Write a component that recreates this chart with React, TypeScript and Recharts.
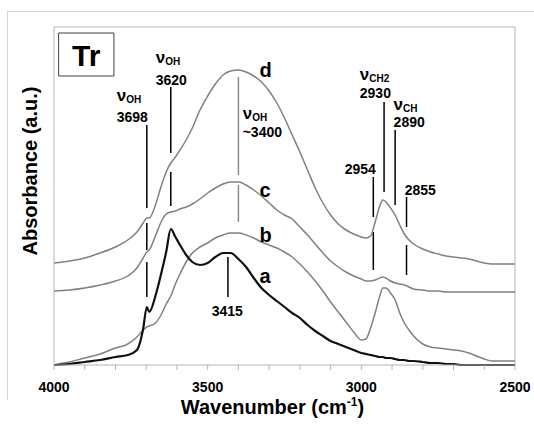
import React from "react";
import {
  LineChart,
  Line,
  XAxis,
  YAxis,
  ReferenceLine,
  ReferenceDot,
  ReferenceArea,
} from "recharts";

// wavenumber grid (cm-1)
const wavenumbers = [
  4000, 3950, 3900, 3850, 3800, 3760, 3730, 3710, 3698, 3690, 3670, 3650, 3635,
  3620, 3605, 3590, 3570, 3550, 3525, 3500, 3475, 3450, 3425, 3400, 3375, 3350,
  3325, 3300, 3275, 3250, 3225, 3200, 3175, 3150, 3125, 3100, 3075, 3050, 3025,
  3000, 2985, 2970, 2955, 2940, 2930, 2920, 2905, 2890, 2875, 2860, 2845, 2830,
  2800, 2775, 2750, 2725, 2700, 2675, 2650, 2625, 2600, 2575, 2550, 2525, 2500,
];

const seriesD = [
  1.02, 1.04, 1.07, 1.12, 1.18, 1.25, 1.33, 1.42, 1.47, 1.47, 1.6, 1.8, 1.93,
  2.02, 2.08, 2.15, 2.25, 2.37, 2.55, 2.69, 2.81, 2.9, 2.94, 2.95, 2.93, 2.89,
  2.83, 2.74, 2.62, 2.47, 2.3, 2.13, 1.95, 1.77, 1.62, 1.5, 1.41, 1.35, 1.31,
  1.28, 1.27, 1.29, 1.43, 1.59, 1.65, 1.63, 1.57, 1.5, 1.4, 1.31, 1.25, 1.21,
  1.16, 1.13, 1.11, 1.09, 1.08, 1.07, 1.06, 1.04, 1.02, 1.01, 1.01, 1.01, 1.01,
];

const seriesC = [
  0.74, 0.75, 0.77, 0.8, 0.84, 0.89, 0.97, 1.07, 1.13, 1.15, 1.29, 1.44, 1.51,
  1.53, 1.54, 1.56, 1.58, 1.61, 1.66, 1.72, 1.77, 1.81, 1.83, 1.83, 1.8, 1.75,
  1.69, 1.62, 1.55, 1.5, 1.46, 1.38, 1.3, 1.21, 1.12, 1.04, 0.98, 0.93, 0.89,
  0.86, 0.84, 0.84, 0.85, 0.87, 0.88, 0.87, 0.84, 0.82, 0.81, 0.8, 0.78, 0.76,
  0.75, 0.74, 0.74, 0.73, 0.73, 0.73, 0.73, 0.73, 0.73, 0.73, 0.73, 0.73, 0.73,
];

const seriesB = [
  0.0, 0.03, 0.07, 0.11, 0.17, 0.21, 0.28, 0.35, 0.38, 0.39, 0.42, 0.51, 0.61,
  0.69, 0.81, 0.91, 1.03, 1.12, 1.18, 1.22, 1.27, 1.3, 1.32, 1.32, 1.3, 1.27,
  1.23, 1.2, 1.17, 1.13, 1.08, 1.01, 0.93, 0.84, 0.74, 0.63, 0.53, 0.43, 0.33,
  0.25, 0.26, 0.37, 0.52, 0.69, 0.77, 0.77, 0.72, 0.65, 0.52, 0.42, 0.35, 0.29,
  0.21, 0.18, 0.17, 0.16, 0.15, 0.14, 0.12, 0.09, 0.06, 0.04, 0.04, 0.04, 0.04,
];

const seriesA = [
  0.0, 0.01, 0.03, 0.05, 0.08, 0.1, 0.15, 0.36, 0.58, 0.53, 0.69, 0.93, 1.13,
  1.36, 1.28, 1.2, 1.1, 1.03, 1.0, 1.02, 1.08, 1.12, 1.12, 1.06, 0.98, 0.87,
  0.77, 0.7, 0.64, 0.58, 0.52, 0.47, 0.4, 0.34, 0.29, 0.24, 0.21, 0.18, 0.15,
  0.12, 0.11, 0.1, 0.09, 0.08, 0.08, 0.07, 0.07, 0.06, 0.05, 0.05, 0.04, 0.04,
  0.03, 0.02, 0.02, 0.01, 0.01, 0.0, 0.0, 0.0, 0.0, 0.0, 0.0, 0.0, 0.0,
];

const xTicks = [
  4000, 3900, 3800, 3700, 3600, 3500, 3400, 3300, 3200, 3100, 3000, 2900, 2800,
  2700, 2600, 2500,
];

// vertical band markers: [top, bottom] spans in absorbance units
const markerLines = [
  { w: 3698, spans: [[2.4, 1.57], [1.42, 1.15], [1.03, 0.68]], grey: false },
  { w: 3620, spans: [[2.78, 2.12], [1.93, 1.59]], grey: false },
  { w: 3400, spans: [[2.88, 1.9], [1.8, 1.43]], grey: true },
  { w: 3434, spans: [[1.08, 0.68]], grey: false },
  { w: 2961, spans: [[1.88, 1.48], [1.33, 0.95]], grey: false },
  { w: 2926, spans: [[2.63, 1.73]], grey: false },
  { w: 2890, spans: [[2.35, 1.6]], grey: false },
  { w: 2853, spans: [[1.68, 1.38], [1.2, 0.9]], grey: false },
];

const peakLabels = [
  { w: 3796, a: 2.64, text: "ν", sub: "OH" },
  { w: 3796, a: 2.43, text: "3698" },
  { w: 3669, a: 3.02, text: "ν", sub: "OH" },
  { w: 3669, a: 2.8, text: "3620" },
  { w: 3386, a: 2.46, text: "ν", sub: "OH" },
  { w: 3386, a: 2.28, text: "~3400" },
  { w: 3487, a: 0.49, text: "3415" },
  { w: 3054, a: 1.91, text: "2954" },
  { w: 3005, a: 2.85, text: "ν", sub: "CH2" },
  { w: 3005, a: 2.67, text: "2930" },
  { w: 2895, a: 2.55, text: "ν", sub: "CH" },
  { w: 2895, a: 2.38, text: "2890" },
  { w: 2859, a: 1.7, text: "2855" },
];

const seriesLetters = [
  { w: 3331, a: 2.88, text: "d" },
  { w: 3331, a: 1.68, text: "c" },
  { w: 3331, a: 1.23, text: "b" },
  { w: 3331, a: 0.82, text: "a" },
];

const data = wavenumbers.map((w, i) => ({
  w,
  a: seriesA[i],
  b: seriesB[i],
  c: seriesC[i],
  d: seriesD[i],
}));

const GREY = "#808080";
const FRAME = "#b4b4b4";

const textAt =
  (t: { text: string; sub?: string }, size: number) =>
  (props: any) => {
    const { x, y } = props.viewBox;
    return (
      <text x={x} y={y} fontSize={t.sub ? 17 : size} fontWeight="bold" fill="#000">
        <tspan>{t.text}</tspan>
        {t.sub && (
          <tspan fontSize={10} dy={2}>
            {t.sub}
          </tspan>
        )}
      </text>
    );
  };

export default function App() {
  return (
    <div
      style={{
        position: "absolute",
        left: 0,
        top: 0,
        width: 534,
        height: 426,
        background: "#fff",
        fontFamily: "'Liberation Sans', Arial, sans-serif",
      }}
    >
      <div
        style={{
          position: "absolute",
          left: 7,
          top: 11,
          width: 527,
          height: 388,
          borderTop: "1px solid #d4d4d4",
          borderLeft: "1px solid #d4d4d4",
        }}
      />
      <LineChart
        width={534}
        height={426}
        data={data}
        margin={{ top: 27, right: 19, left: 0, bottom: 0 }}
        style={{ position: "absolute", left: 0, top: 0 }}
      >
        <XAxis
          dataKey="w"
          type="number"
          domain={[2500, 4000]}
          reversed
          ticks={xTicks}
          interval={0}
          height={61}
          tickSize={5}
          tickMargin={12}
          axisLine={{ stroke: FRAME }}
          tickLine={{ stroke: FRAME }}
          tick={{ fontSize: 14, fontWeight: "bold", fill: "#000" }}
          tickFormatter={(v) => (v % 500 === 0 ? String(v) : "")}
          label={{
            content: (p: any) => {
              const vb = p.viewBox;
              return (
                <text
                  x={vb.x + vb.width / 2 - 12}
                  y={vb.y + 49}
                  textAnchor="middle"
                  fontSize={20}
                  fontWeight="bold"
                  fill="#000"
                >
                  <tspan>Wavenumber (cm</tspan>
                  <tspan fontSize={12} dy={-8}>
                    -1
                  </tspan>
                  <tspan dy={8}>)</tspan>
                </text>
              );
            },
          }}
        />
        <YAxis
          type="number"
          domain={[0, 3.38]}
          width={54}
          tick={false}
          tickLine={false}
          axisLine={{ stroke: FRAME }}
          label={{
            content: (p: any) => {
              const vb = p.viewBox;
              const cx = vb.x + 37;
              const cy = vb.y + vb.height / 2 - 25;
              return (
                <text
                  x={cx}
                  y={cy}
                  transform={`rotate(-90 ${cx} ${cy})`}
                  textAnchor="middle"
                  fontSize={20}
                  fontWeight="bold"
                  fill="#000"
                >
                  Absorbance (a.u.)
                </text>
              );
            },
          }}
        />
        <ReferenceLine y={3.38} stroke={FRAME} />
        <ReferenceLine x={2500} stroke={FRAME} />

        <ReferenceArea
          x1={3985}
          x2={3805}
          y1={2.89}
          y2={3.32}
          fill="#fff"
          fillOpacity={1}
          stroke="#404040"
          strokeWidth={1}
          label={(p: any) => {
            const vb = p.viewBox;
            return (
              <text
                x={vb.x + vb.width / 2}
                y={vb.y + vb.height / 2 + 11}
                textAnchor="middle"
                fontSize={30}
                fontWeight="bold"
                fill="#000"
              >
                Tr
              </text>
            );
          }}
        />

        {markerLines.flatMap((m) =>
          m.spans.map((s, j) => (
            <ReferenceLine
              key={`${m.w}-${j}`}
              segment={[
                { x: m.w, y: s[0] },
                { x: m.w, y: s[1] },
              ]}
              stroke={m.grey ? "#8c8c8c" : "#000"}
              strokeWidth={1.5}
            />
          ))
        )}

        <Line
          dataKey="d"
          type="monotone"
          stroke={GREY}
          strokeWidth={1.5}
          dot={false}
          isAnimationActive={false}
        />
        <Line
          dataKey="c"
          type="monotone"
          stroke={GREY}
          strokeWidth={1.5}
          dot={false}
          isAnimationActive={false}
        />
        <Line
          dataKey="b"
          type="monotone"
          stroke={GREY}
          strokeWidth={1.5}
          dot={false}
          isAnimationActive={false}
        />
        <Line
          dataKey="a"
          type="monotone"
          stroke="#111"
          strokeWidth={2.2}
          dot={false}
          isAnimationActive={false}
        />

        {peakLabels.map((t, i) => (
          <ReferenceDot
            key={`p${i}`}
            x={t.w}
            y={t.a}
            r={0}
            fill="none"
            stroke="none"
            label={textAt(t, 14)}
          />
        ))}
        {seriesLetters.map((t) => (
          <ReferenceDot
            key={t.text}
            x={t.w}
            y={t.a}
            r={0}
            fill="none"
            stroke="none"
            label={textAt(t, 20)}
          />
        ))}
      </LineChart>
    </div>
  );
}
